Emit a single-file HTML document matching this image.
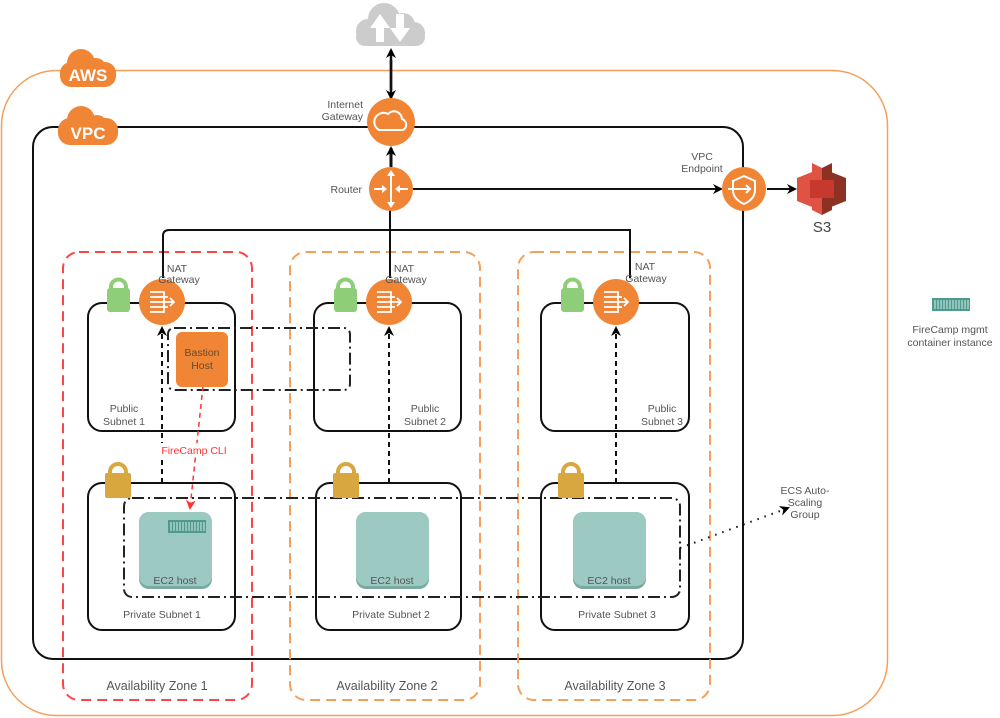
<!DOCTYPE html>
<html><head><meta charset="utf-8"><style>
html,body{margin:0;padding:0;background:#fff;width:1000px;height:718px;overflow:hidden}
text{font-family:"Liberation Sans",sans-serif;fill:#555;font-size:10.5px}
</style></head><body>
<svg width="1000" height="718" viewBox="0 0 1000 718" xmlns="http://www.w3.org/2000/svg">
<defs>
<marker id="ah" markerWidth="10" markerHeight="10" refX="8" refY="5" orient="auto" markerUnits="userSpaceOnUse"><path d="M0,0 L10,5 L0,10 L3,5 Z" fill="#000"/></marker>
<marker id="ahr" markerWidth="10" markerHeight="10" refX="8" refY="5" orient="auto" markerUnits="userSpaceOnUse"><path d="M0,0 L10,5 L0,10 L3,5 Z" fill="#f33"/></marker>
</defs>
<rect x="1.5" y="70.5" width="886" height="645" rx="55" fill="none" stroke="#f5a05a" stroke-width="1.5"/>
<rect x="33" y="127" width="710" height="532" rx="20" fill="none" stroke="#111" stroke-width="2"/>
<rect x="63" y="252" width="189" height="448" rx="16" fill="none" stroke="#f44" stroke-width="2" stroke-dasharray="10,6"/>
<rect x="290" y="252" width="190" height="448" rx="16" fill="none" stroke="#f5a05a" stroke-width="2" stroke-dasharray="10,6"/>
<rect x="518" y="252" width="192" height="448" rx="16" fill="none" stroke="#f5a05a" stroke-width="2" stroke-dasharray="10,6"/>
<text x="157" y="690" text-anchor="middle" style="font-size:12.5px">Availability Zone 1</text>
<text x="387" y="690" text-anchor="middle" style="font-size:12.5px">Availability Zone 2</text>
<text x="615" y="690" text-anchor="middle" style="font-size:12.5px">Availability Zone 3</text>
<g fill="none" stroke="#111" stroke-width="2">
<rect x="88" y="303" width="147" height="128" rx="14"/>
<rect x="314" y="303" width="147" height="128" rx="14"/>
<rect x="541" y="303" width="148" height="128" rx="14"/>
<rect x="88" y="483" width="147" height="147" rx="14"/>
<rect x="316" y="483" width="145" height="147" rx="14"/>
<rect x="541" y="483" width="148" height="147" rx="14"/>
</g>
<text x="124" y="412" text-anchor="middle">Public</text><text x="124" y="425" text-anchor="middle">Subnet 1</text>
<text x="425" y="412" text-anchor="middle">Public</text><text x="425" y="425" text-anchor="middle">Subnet 2</text>
<text x="662" y="412" text-anchor="middle">Public</text><text x="662" y="425" text-anchor="middle">Subnet 3</text>
<text x="162" y="618" text-anchor="middle">Private Subnet 1</text>
<text x="391" y="618" text-anchor="middle">Private Subnet 2</text>
<text x="617" y="618" text-anchor="middle">Private Subnet 3</text>
<rect x="124" y="498" width="556" height="99" rx="8" fill="none" stroke="#222" stroke-width="2" stroke-dasharray="12,4,2,4"/>
<rect x="168" y="328" width="182" height="62" rx="6" fill="none" stroke="#222" stroke-width="2" stroke-dasharray="12,4,2,4"/>
<g stroke="#111" stroke-width="2" fill="none">
<path d="M163 278 V236 Q163 230 169 230 H630 V278"/>
<path d="M390 278 V200"/>
<path d="M391 167 V148" stroke-width="3" marker-end="url(#ah)"/>
<path d="M391 90 V50" stroke-width="2.5" marker-end="url(#ah)"/>
<path d="M391 60 V98" stroke-width="2.5" marker-end="url(#ah)"/>
<path d="M413 189 H721" marker-end="url(#ah)"/>
<path d="M767 189 H795" marker-end="url(#ah)"/>
</g>
<g stroke="#111" stroke-width="2" fill="none" stroke-dasharray="5,4">
<path d="M162 483 V328" marker-end="url(#ah)"/>
<path d="M389 483 V328" marker-end="url(#ah)"/>
<path d="M616 483 V328" marker-end="url(#ah)"/>
<path d="M680 548 L788 508" stroke-dasharray="1.5,6" marker-end="url(#ah)"/>
</g>
<path d="M203 386 L190 508" stroke="#f33" stroke-width="1.5" fill="none" stroke-dasharray="5,4" marker-end="url(#ahr)"/>
<rect x="158" y="443" width="72" height="14" fill="#fff"/>
<text x="194" y="454" text-anchor="middle" style="fill:#f33">FireCamp CLI</text>
<!-- cloud top -->
<g fill="#ccc"><circle cx="384" cy="19" r="16"/><circle cx="403" cy="25" r="12"/><circle cx="368" cy="31" r="12"/><circle cx="414" cy="33" r="11"/><rect x="356" y="28" width="69" height="18" rx="9"/></g>
<g fill="#fff"><path d="M380 14 L370 28 H376 V42 H384 V28 H390 Z"/><path d="M400 42 L410 28 H404 V14 H396 V28 H390 Z"/></g>
<g fill="#f08535"><circle cx="81" cy="63" r="14"/><circle cx="96" cy="68" r="10"/><rect x="60" y="62" width="56" height="25" rx="11"/></g>
<text x="88" y="81" text-anchor="middle" style="fill:#fff;font-size:17px;font-weight:bold">AWS</text>
<g fill="#f08535"><circle cx="81" cy="120" r="14"/><circle cx="97" cy="125" r="10"/><rect x="58" y="118" width="60" height="27" rx="12"/></g>
<text x="88" y="139" text-anchor="middle" style="fill:#fff;font-size:17px;font-weight:bold">VPC</text>
<circle cx="391" cy="122" r="24" fill="#f08535"/>
<path d="M379 130 H403 A6 6 0 0 0 402 119 A8 8 0 0 0 388 114 A6 6 0 0 0 379 130 Z" fill="none" stroke="#fff" stroke-width="2"/>
<text x="363" y="108" text-anchor="end">Internet</text><text x="363" y="120" text-anchor="end">Gateway</text>
<circle cx="391" cy="189" r="22" fill="#f08535"/>
<g stroke="#fff" stroke-width="2" fill="#fff"><path d="M391 173 V205"/><path d="M374 189 H384"/><path d="M408 189 H398"/></g>
<g fill="#fff"><path d="M391 170 L387 176 H395 Z"/><path d="M391 208 L387 202 H395 Z"/><path d="M387 189 L382 185 V193 Z"/><path d="M395 189 L400 185 V193 Z"/></g>
<text x="362" y="193" text-anchor="end">Router</text>
<circle cx="744" cy="189" r="22" fill="#f08535"/>
<path d="M744 176 L755 181 V190 Q755 199 744 204 Q733 199 733 190 V181 Z" fill="none" stroke="#fff" stroke-width="2"/>
<path d="M728 189 H750 M746 185 L750 189 L746 193" fill="none" stroke="#fff" stroke-width="2"/>
<text x="702" y="160" text-anchor="middle">VPC</text><text x="702" y="172" text-anchor="middle">Endpoint</text>
<g>
<path d="M797 178 L812 172 V207 L797 201 Z" fill="#e05243"/>
<path d="M831 172 L846 178 V201 L831 207 Z" fill="#8c3123"/>
<path d="M812 163 L822 168 V215 L812 210 Z" fill="#e05243"/>
<path d="M822 168 L832 163 V210 L822 215 Z" fill="#8c3123"/>
<rect x="810" y="180" width="24" height="18" fill="#c7392c"/>
</g>
<text x="822" y="232" text-anchor="middle" style="font-size:15px;fill:#444">S3</text>
<g id="nat">
<rect x="107" y="288" width="23" height="24" rx="3" fill="#8fce79"/>
<path d="M111 292 V287 A7.5 7.5 0 0 1 126 287 V292" fill="none" stroke="#8fce79" stroke-width="4"/>
<circle cx="162" cy="302" r="23" fill="#f08535"/>
<g stroke="#fff" stroke-width="1.8" fill="none"><path d="M150 292 H164 V312 H150 M150 302 H174 M170 298 L174 302 L170 306 M150 297 H168 M150 307 H168"/></g>
</g>
<use href="#nat" x="227"/>
<use href="#nat" x="454"/>
<text x="177" y="272" text-anchor="middle">NAT</text><text x="179" y="283" text-anchor="middle">Gateway</text>
<text x="404" y="272" text-anchor="middle">NAT</text><text x="406" y="283" text-anchor="middle">Gateway</text>
<text x="645" y="270" text-anchor="middle">NAT</text><text x="646" y="282" text-anchor="middle">Gateway</text>
<g id="glock">
<rect x="105" y="473" width="26" height="25" rx="2" fill="#d8a740"/>
<path d="M110 476 V472 A8 8 0 0 1 126 472 V476" fill="none" stroke="#d8a740" stroke-width="4"/>
</g>
<use href="#glock" x="228"/>
<use href="#glock" x="453"/>
<rect x="176" y="332" width="52" height="55" rx="6" fill="#f08535"/>
<text x="202" y="356" text-anchor="middle" style="fill:#6b4a2a">Bastion</text>
<text x="202" y="369" text-anchor="middle" style="fill:#6b4a2a">Host</text>
<g id="ec2">
<rect x="139" y="512" width="73" height="77" rx="10" fill="#7aa9a1"/>
<rect x="139" y="512" width="73" height="74" rx="10" fill="#9cc9c1"/>
</g>
<use href="#ec2" x="217"/>
<use href="#ec2" x="434"/>
<text x="175" y="584" text-anchor="middle">EC2 host</text>
<text x="392" y="584" text-anchor="middle">EC2 host</text>
<text x="609" y="584" text-anchor="middle">EC2 host</text>
<g id="cont">
<rect x="168" y="520" width="38" height="13" fill="#4e9a8c"/>
<g stroke="#d8efea" stroke-width="1"><path d="M171 522V531M174 522V531M177 522V531M180 522V531M183 522V531M186 522V531M189 522V531M192 522V531M195 522V531M198 522V531M201 522V531M204 522V531"/></g>
</g>
<use href="#cont" x="764" y="-222"/>
<text x="950" y="333" text-anchor="middle">FireCamp mgmt</text>
<text x="950" y="346" text-anchor="middle">container instance</text>
<text x="805" y="494" text-anchor="middle">ECS Auto-</text>
<text x="805" y="506" text-anchor="middle">Scaling</text>
<text x="805" y="518" text-anchor="middle">Group</text>
</svg>
</body></html>
